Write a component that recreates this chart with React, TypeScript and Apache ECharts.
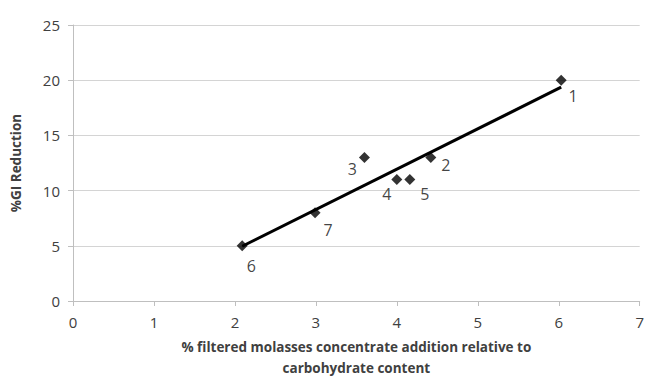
import React, { useEffect, useRef } from "react";
import * as echarts from "echarts";

const pointIds = ["1", "2", "3", "4", "5", "6", "7"];
const xValues = [6.03, 4.42, 3.6, 4.0, 4.16, 2.09, 2.99];
const yValues = [20, 13, 13, 11, 11, 5, 8];
const xTicks = [0, 1, 2, 3, 4, 5, 6, 7];
const yTicks = [0, 5, 10, 15, 20, 25];

const labelOffsets: Record<string, [number, number]> = {
  "1": [12, 16],
  "2": [15, 8],
  "3": [-12, 12],
  "4": [-10, 14],
  "5": [15, 14],
  "6": [9, 20],
  "7": [13, 17],
};

function trend() {
  const n = xValues.length;
  const mx = xValues.reduce((a, b) => a + b, 0) / n;
  const my = yValues.reduce((a, b) => a + b, 0) / n;
  let sxy = 0, sxx = 0;
  for (let i = 0; i < n; i++) {
    sxy += (xValues[i] - mx) * (yValues[i] - my);
    sxx += (xValues[i] - mx) ** 2;
  }
  const b = sxy / sxx;
  const a = my - b * mx;
  const x0 = Math.min(...xValues);
  const x1 = Math.max(...xValues);
  return [[x0, a + b * x0], [x1, a + b * x1]];
}

export default function App() {
  const ref = useRef<HTMLDivElement>(null);
  useEffect(() => {
    if (!ref.current) return;
    const chart = echarts.init(ref.current, undefined, { renderer: "svg" });
    const font = "'Open Sans', 'Noto Sans', sans-serif";
    chart.setOption({
      animation: false,
      textStyle: { fontFamily: font },
      grid: { left: 73, right: 4, top: 25, bottom: 80, containLabel: false },
      xAxis: {
        type: "value",
        min: xTicks[0],
        max: xTicks[xTicks.length - 1],
        interval: 1,
        splitLine: { show: false },
        axisLine: { show: true, lineStyle: { color: "#bfbfbf", width: 1 } },
        axisTick: { show: true, length: 5, lineStyle: { color: "#bfbfbf" } },
        axisLabel: { color: "#404040", fontSize: 15, margin: 13, fontFamily: font },
        name: "% filtered molasses concentrate addition relative to\ncarbohydrate content",
        nameLocation: "middle",
        nameGap: 35,
        nameTextStyle: { color: "#404040", fontSize: 13.5, fontWeight: "bold", lineHeight: 21, fontFamily: font },
      },
      yAxis: {
        type: "value",
        min: yTicks[0],
        max: yTicks[yTicks.length - 1],
        interval: 5,
        splitLine: { show: true, lineStyle: { color: "#d4d4d4", width: 1 } },
        axisLine: { show: true, lineStyle: { color: "#bfbfbf", width: 1 } },
        axisTick: { show: true, length: 5, lineStyle: { color: "#bfbfbf" } },
        axisLabel: { color: "#404040", fontSize: 15, margin: 13, fontFamily: font },
        name: "%GI Reduction",
        nameLocation: "middle",
        nameGap: 50,
        nameTextStyle: { color: "#404040", fontSize: 13.5, fontWeight: "bold", fontFamily: font },
      },
      series: [
        {
          type: "line",
          data: trend(),
          symbol: "none",
          lineStyle: { color: "#000", width: 3 },
          z: 2,
        },
        {
          type: "scatter",
          symbol: "diamond",
          symbolSize: 11,
          itemStyle: { color: "#000" },
          z: 3,
          data: xValues.map((x, i) => ({
            value: [x, yValues[i]],
            name: pointIds[i],
            label: {
              show: true,
              position: "inside",
              offset: labelOffsets[pointIds[i]],
              formatter: pointIds[i],
              color: "#111",
              textBorderWidth: 0,
              textBorderColor: "transparent",
              fontSize: 16,
              fontFamily: font,
            },
          })),
        },
      ],
    });
    return () => chart.dispose();
  }, []);
  return <div ref={ref} style={{ width: 647, height: 383, position: "absolute", left: 0, top: 0, background: "#fff" }} />;
}
